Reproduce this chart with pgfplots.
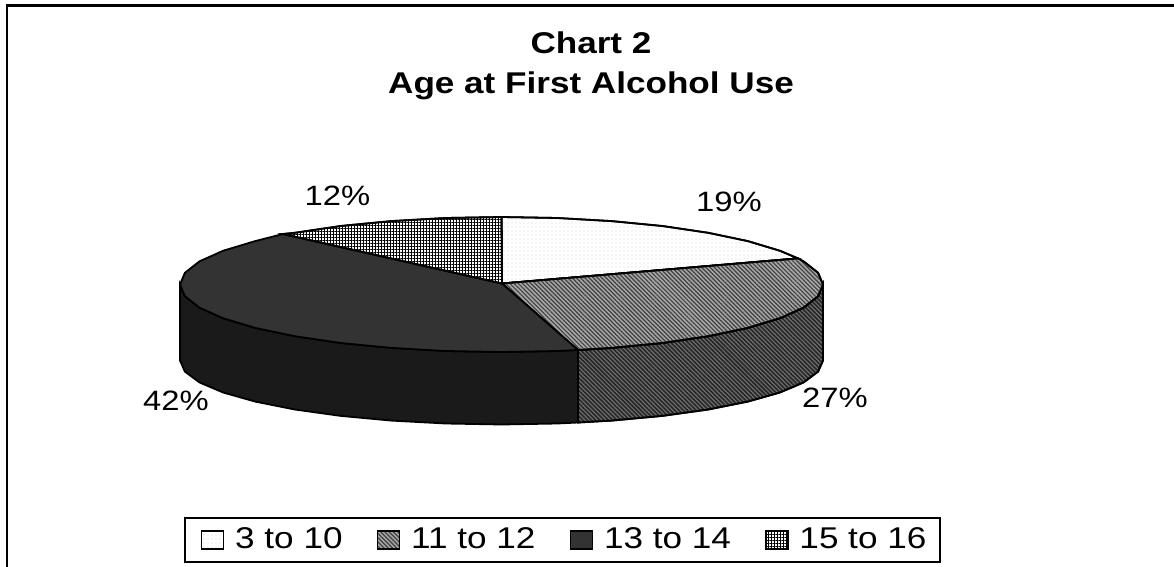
\documentclass[border=0pt]{standalone}
\usepackage{fontspec}
\setmainfont[FakeStretch=1.17]{Liberation Sans}
\usepackage{pgfplots}
\pgfplotsset{compat=1.18}
\usetikzlibrary{patterns.meta}

\definecolor{sliceA}{HTML}{FFFFFF}
\definecolor{sliceB}{HTML}{A6A6A6}
\definecolor{sliceC}{HTML}{333333}
\definecolor{sliceD}{HTML}{FFFFFF}
\definecolor{sideB}{HTML}{707070}
\definecolor{sideC}{HTML}{1A1A1A}

\begin{document}
\begin{tikzpicture}
\path[use as bounding box] (0,0) rectangle (587pt,283.5pt);
\begin{axis}[
    scale only axis,
    width=587pt, height=283.5pt,
    xmin=0, xmax=1174,
    ymin=0, ymax=567,
    y dir=reverse,
    hide axis,
    title={\textbf{Chart 2}\\\textbf{Age at First Alcohol Use}},
    title style={at={(axis cs:591,78)}, anchor=center, align=center,
        font=\fontsize{15}{20}\selectfont},
    legend columns=4,
    legend style={at={(axis cs:562.5,540)}, anchor=center, draw=black, line width=0.9pt,
        font=\fontsize{15}{17}\selectfont, inner xsep=5pt, inner ysep=3pt,
        /tikz/every even column/.append style={column sep=12pt},
        /tikz/every odd column/.append style={column sep=3.5pt}},
    legend image code/.code={
        \path (-3pt,0pt);
        \draw[#1, line width=0.7pt] (0pt,-4.5pt) rectangle (11pt,4.5pt);},
]

% frame, only top and left show
\addplot[forget plot, black, line width=1.2pt] coordinates {(7,567)(7,5.5)(1174,5.5)};

% side walls
\addplot[forget plot, draw=black, line width=0.9pt, fill=sideC] coordinates {
    (180,284.5)(184.9,296.2)(199.4,307.6)(223.1,318.25)(255.2,327.9)(294.8,336.2)
    (340.75,343)(391.5,347.9)(445.7,351)(501.5,352)(557.3,351)(578,350)
    (578,422.5)(557.3,423.5)(501.5,424.5)(445.7,423.5)(391.5,420.6)(340.75,415.9)
    (294.8,409.5)(255.2,401.6)(223.1,392.5)(199.4,382.4)(184.9,371.6)(180,360.5)
} --cycle;
\addplot[forget plot, draw=black, line width=0.9pt,
    preaction={fill=sideB},
    pattern={Lines[angle=-45,distance=1.5pt,line width=0.8pt]}, pattern color=black!85]
    coordinates {
    (578,350)(611.5,347.9)(662.3,343)(708.2,336.2)(747.8,327.9)(779.9,318.25)
    (803.6,307.6)(818.1,296.2)(823,284.5)(823,360.5)(818.1,371.6)(803.6,382.4)
    (779.9,392.5)(747.8,401.6)(708.2,409.5)(662.3,415.9)(611.5,420.6)(578,422.5)
} --cycle;

% top slices, 19 27 42 12 percent
\addplot[draw=black, line width=0.9pt,
    preaction={fill=sliceA},
    pattern={Dots[distance=2pt,radius=0.3pt]}, pattern color=black!18]
    coordinates {
    (502,283.5)(501.5,217)(557.3,218)(611.5,221.1)(662.3,226)(708.2,232.8)
    (747.8,241.1)(779.9,250.75)(798,258.4)
} --cycle;
\addlegendentry{3 to 10}

\addplot[draw=black, line width=0.9pt,
    preaction={fill=sliceB},
    pattern={Lines[angle=-45,distance=1.5pt,line width=0.6pt]}, pattern color=black!75]
    coordinates {
    (502,283.5)(798,258.4)(803.6,261.4)(818.1,272.8)(823,284.5)(818.1,296.2)
    (803.6,307.6)(779.9,318.25)(747.8,327.9)(708.2,336.2)(662.3,343)(611.5,347.9)(578,350)
} --cycle;
\addlegendentry{11 to 12}

\addplot[draw=black, line width=0.9pt, fill=sliceC] coordinates {
    (502,283.5)(578,350)(557.3,351)(501.5,352)(445.7,351)(391.5,347.9)(340.75,343)
    (294.8,336.2)(255.2,327.9)(223.1,318.25)(199.4,307.6)(184.9,296.2)(180,284.5)
    (184.9,272.8)(199.4,261.4)(223.1,250.75)(255.2,241.1)(283,234)
} --cycle;
\addlegendentry{13 to 14}

\addplot[draw=black, line width=0.9pt,
    preaction={fill=sliceD},
    pattern={Hatch[angle=0,distance=1.5pt,line width=0.35pt]}, pattern color=black]
    coordinates {
    (502,283.5)(283,234)(294.8,232.8)(340.75,226)(391.5,221.1)(445.7,218)(501.5,217)
} --cycle;
\addlegendentry{15 to 16}

% percent labels
\addplot[forget plot, draw=none, mark=none, point meta=explicit symbolic,
    nodes near coords, nodes near coords style={anchor=center, inner sep=0pt,
        font=\fontsize{14}{17}\selectfont}]
    coordinates {
    (729,202)[19\%]
    (835,398)[27\%]
    (176,401)[42\%]
    (337.5,196)[12\%]
};
\end{axis}
\end{tikzpicture}
\end{document}
